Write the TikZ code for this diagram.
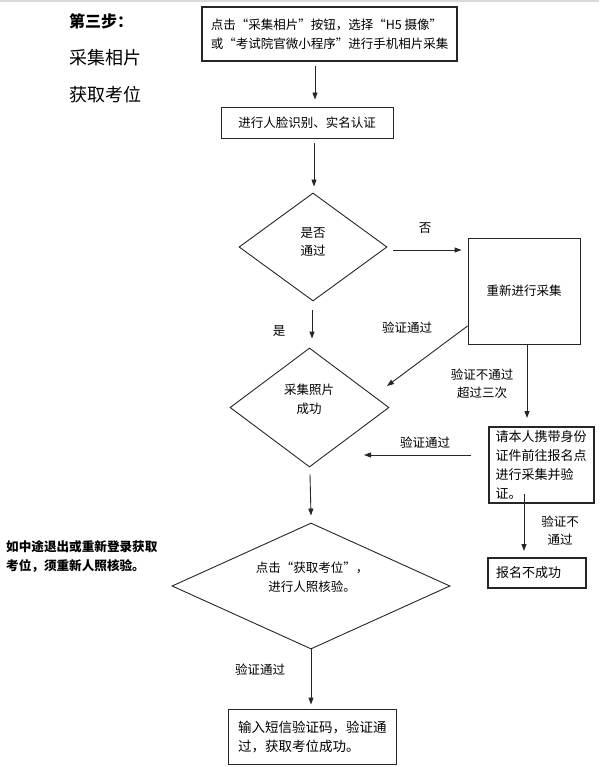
\documentclass[tikz,border=0pt]{standalone}
\usepackage{fontspec}
\setmainfont{Noto Sans CJK SC}
\usetikzlibrary{arrows.meta,shapes.geometric,calc}
\newcommand\myfs[2]{\fontsize{#1}{#2}\selectfont}
\begin{document}
\begin{tikzpicture}[x=1pt,y=-1pt,
  ln/.style={draw=black!85,line width=0.9pt},
  box/.style={ln,rectangle,inner sep=0pt,font=\myfs{12.5}{19}},
  dia/.style={ln,diamond,inner sep=0pt},
  txt/.style={inner sep=0pt,align=center,font=\myfs{12.5}{18}},
  arr/.style={draw=black!85,line width=0.9pt,-{Triangle[length=7pt,width=5pt]}}]
\useasboundingbox (0,0) rectangle (599,767);
\fill[white] (0,0) rectangle (599,767);
\draw[black!15,line width=1.5pt] (0,0.8) -- (599,0.8);

% titles
\node[anchor=west,inner sep=0pt,font=\bfseries\myfs{16}{16}] (t1) at (69,21) {第三步：};
\node[anchor=west,inner sep=0pt,font=\myfs{18}{18}] (t2) at (69,58) {采集相片};
\node[anchor=west,inner sep=0pt,font=\myfs{18}{18}] (t3) at (69,95) {获取考位};
\node[anchor=west,inner sep=0pt,align=left,font=\bfseries\myfs{12.6}{19}] (note) at (6,556.5) {如中途退出或重新登录获取\\考位，须重新人照核验。};

% boxes
\node[box,line width=1.3pt,minimum width=255pt,minimum height=54pt,align=left] (box1) at (329.5,34) {点击“采集相片”按钮，选择“H5 摄像”\\或“考试院官微小程序”进行手机相片采集};
\node[box,minimum width=172pt,minimum height=31pt] (box2) at (307,122.5) {进行人脸识别、实名认证};
\node[box,minimum width=112pt,minimum height=106pt] (box3) at (524,291) {重新进行采集};
\node[box,line width=2pt,minimum width=105pt,minimum height=76pt,text width=92pt,align=left,font=\myfs{13}{19}] (box4) at (541.5,465) {请本人携带身份\\证件前往报名点\\进行采集并验\\证。};
\node[box,line width=2pt,minimum width=98pt,minimum height=30pt,text width=82pt,align=left,font=\myfs{13}{19}] (box5) at (537,573) {报名不成功};
\node[box,minimum width=168pt,minimum height=55pt,text width=148pt,align=left,font=\myfs{13.5}{19}] (box6) at (312,736.5) {输入短信验证码，验证通\\过，获取考位成功。};

% diamonds
\node[dia,minimum width=148pt,minimum height=108pt] (d1) at (313,247) {};
\node[dia,minimum width=159pt,minimum height=119pt] (d2) at (309.5,407.5) {};
\node[dia,minimum width=278pt,minimum height=126pt] (d3) at (311,586) {};
\node[txt] (d1t) at (313,242) {是否\\通过};
\node[txt,font=\myfs{12.5}{19}] (d2t) at (309,399.5) {采集照片\\成功};
\node[txt,font=\myfs{12.5}{19}] (d3t) at (312,577.5) {点击“获取考位”，\\进行人照核验。};

% labels
\node[txt] (lno) at (425,228) {否};
\node[txt] (lyes) at (279,331) {是};
\node[txt] (lv1) at (407,328) {验证通过};
\node[txt] (lv2) at (482,384) {验证不通过\\超过三次};
\node[txt] (lv3) at (425,443) {验证通过};
\node[txt] (lv4) at (560,531) {验证不\\通过};
\node[txt] (lv5) at (260,670) {验证通过};

% free ends
\coordinate (a5e) at (387,386);
\coordinate (a7e) at (364,455);

% connectors
\draw[arr] ($(box1.south)+(-14.5,4)$) -- ($(box2.north)+(8,-7)$);
\draw[arr] ($(box2.south)+(7,5)$) -- ($(d1.north)+(1,-6)$);
\draw[arr] ($(d1.east)+(6,3)$) -- ($(box3.west)+(-6,-41)$);
\draw[arr] ($(d1.south)+(-1,9)$) -- ($(d2.north)+(2.5,-9)$);
\draw[arr] ($(box3.west)+(0,35)$) -- (a5e);
\draw[arr] ($(box3.south)+(3,0)$) -- ($(box4.north)+(-14.5,-8)$);
\draw[arr] ($(box4.west)+(-17,-10)$) -- (a7e);
\draw[arr] ($(box4.south)+(-17.5,-10)$) -- ($(box5.north)+(-13,-6)$);
\draw[arr] ($(d2.south)+(0.5,7)$) -- ($(d3.north)+(0,-7)$);
\draw[arr] (d3.south) -- ($(box6.north)+(-1,-4)$);
\end{tikzpicture}
\end{document}
